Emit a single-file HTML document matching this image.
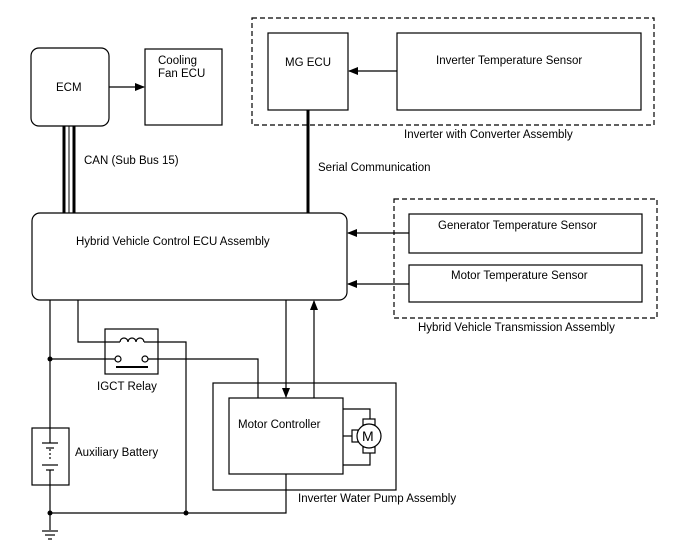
<!DOCTYPE html>
<html><head><meta charset="utf-8"><style>
html,body{margin:0;padding:0;background:#fff}
svg{display:block}
text{font-family:"Liberation Sans",Arial,sans-serif;font-size:11.5px;fill:#000}
</style></head><body>
<svg width="688" height="560" viewBox="0 0 688 560" xmlns="http://www.w3.org/2000/svg">
<defs><marker id="a" markerWidth="10" markerHeight="8" refX="9" refY="4" orient="auto" markerUnits="userSpaceOnUse"><path d="M0,0 L10,4 L0,8 z" fill="#000"/></marker></defs>
<g fill="none" stroke="#000" stroke-width="1.2">
<!-- ECM -->
<rect x="31" y="48" width="78" height="78" rx="8"/>
<rect x="145" y="49" width="77" height="76"/>
<line x1="109" y1="87" x2="144" y2="87" marker-end="url(#a)"/>
<!-- CAN -->
<line x1="64" y1="126" x2="64" y2="213" stroke-width="3"/>
<line x1="69" y1="126" x2="69" y2="213" stroke-width="1"/>
<line x1="74" y1="126" x2="74" y2="213" stroke-width="3"/>
<!-- Inverter dashed -->
<rect x="252" y="18" width="402" height="107" stroke-dasharray="5,3"/>
<rect x="268" y="33" width="80" height="77"/>
<rect x="397" y="33" width="244" height="77"/>
<line x1="397" y1="71" x2="349" y2="71" marker-end="url(#a)"/>
<line x1="308" y1="110" x2="308" y2="213" stroke-width="3"/>
<!-- HV ECU -->
<rect x="32" y="213" width="315" height="87" rx="8"/>
<!-- Transmission dashed -->
<rect x="394" y="199" width="263" height="119" stroke-dasharray="5,3"/>
<rect x="409" y="214" width="233" height="39"/>
<rect x="409" y="265" width="233" height="37"/>
<line x1="409" y1="233" x2="348" y2="233" marker-end="url(#a)"/>
<line x1="409" y1="284" x2="348" y2="284" marker-end="url(#a)"/>
<!-- lower wiring -->
<line x1="50" y1="300" x2="50" y2="428"/>
<line x1="50" y1="485" x2="50" y2="530"/>
<rect x="32" y="428" width="37" height="57"/>
<line x1="50" y1="428" x2="50" y2="443"/>
<line x1="42" y1="443" x2="58" y2="443"/>
<line x1="46" y1="448" x2="54" y2="448"/>
<line x1="50" y1="449" x2="50" y2="461" stroke-dasharray="2,2"/>
<line x1="42" y1="465" x2="58" y2="465"/>
<line x1="46" y1="470" x2="54" y2="470"/>
<line x1="50" y1="470" x2="50" y2="485"/>
<line x1="42" y1="531" x2="58" y2="531"/>
<line x1="45" y1="535" x2="55" y2="535"/>
<line x1="48" y1="539" x2="52" y2="539"/>
<!-- relay -->
<rect x="105" y="329" width="53" height="45"/>
<polyline points="78,300 78,342 120,342"/>
<path d="M120,342 a4,4 0 0 1 8,0 a4,4 0 0 1 8,0 a4,4 0 0 1 8,0"/>
<polyline points="144,342 186,342 186,513"/>
<line x1="50" y1="359" x2="115" y2="359"/>
<circle cx="118" cy="359" r="3"/>
<circle cx="145" cy="359" r="3"/>
<polyline points="148,359 258,359 258,398"/>
<line x1="116" y1="367" x2="148" y2="367" stroke-width="2"/>
<!-- pump -->
<rect x="213" y="383" width="183" height="107"/>
<rect x="229" y="398" width="114" height="76"/>
<line x1="286" y1="300" x2="286" y2="397" marker-end="url(#a)"/>
<line x1="314" y1="398" x2="314" y2="301" marker-end="url(#a)"/>
<polyline points="286,474 286,513 50,513"/>
<!-- motor -->
<polyline points="343,409 370,409 370,419"/>
<polyline points="343,465 370,465 370,453"/>
<line x1="343" y1="436" x2="352" y2="436"/>
<rect x="363" y="419" width="12" height="6"/>
<rect x="363" y="447" width="12" height="6"/>
<rect x="352" y="430" width="6" height="12"/>
<circle cx="369" cy="436" r="12" fill="#fff"/>
</g>
<g fill="#000">
<circle cx="50" cy="359" r="2.5"/><circle cx="50" cy="513" r="2.5"/><circle cx="186" cy="513" r="2.5"/>
</g>
<text x="56" y="91">ECM</text>
<text x="158" y="64">Cooling</text>
<text x="158" y="77">Fan ECU</text>
<text x="84" y="164">CAN (Sub Bus 15)</text>
<text x="285" y="66">MG ECU</text>
<text x="436" y="64">Inverter Temperature Sensor</text>
<text x="404" y="138">Inverter with Converter Assembly</text>
<text x="318" y="171">Serial Communication</text>
<text x="76" y="245">Hybrid Vehicle Control ECU Assembly</text>
<text x="438" y="229">Generator Temperature Sensor</text>
<text x="451" y="279">Motor Temperature Sensor</text>
<text x="418" y="331">Hybrid Vehicle Transmission Assembly</text>
<text x="97" y="390">IGCT Relay</text>
<text x="238" y="428">Motor Controller</text>
<text x="75" y="456">Auxiliary Battery</text>
<text x="298" y="502">Inverter Water Pump Assembly</text>
<text x="362" y="441" style="font-size:14px">M</text>
</svg>
</body></html>
